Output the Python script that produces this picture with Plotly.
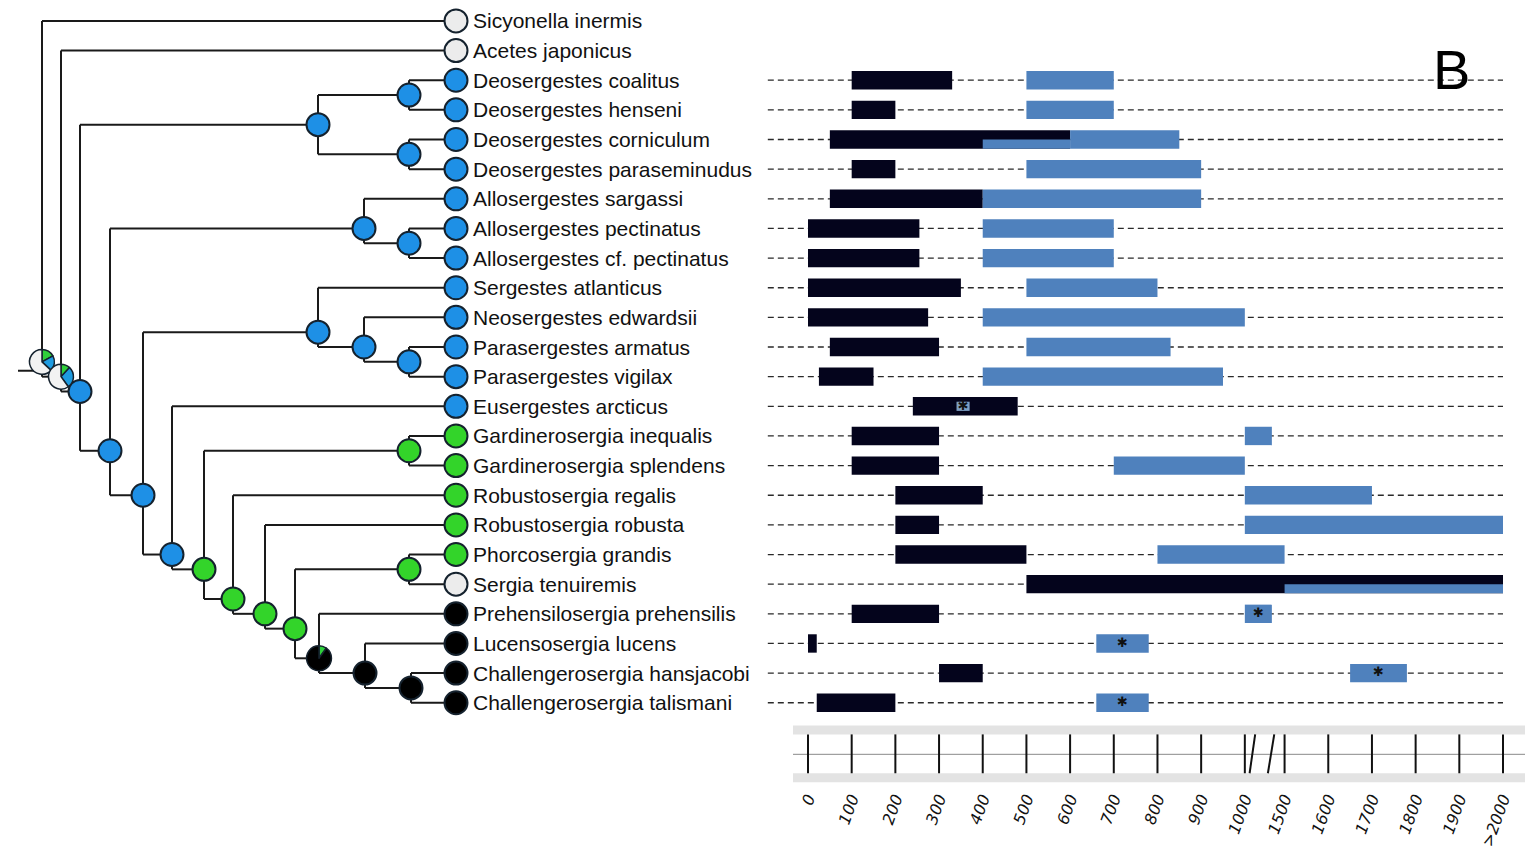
import plotly.graph_objects as go

W, H = 1525, 849

# ---------------- data ----------------
species = [
    "Sicyonella inermis", "Acetes japonicus", "Deosergestes coalitus", "Deosergestes henseni",
    "Deosergestes corniculum", "Deosergestes paraseminudus", "Allosergestes sargassi",
    "Allosergestes pectinatus", "Allosergestes cf. pectinatus", "Sergestes atlanticus",
    "Neosergestes edwardsii", "Parasergestes armatus", "Parasergestes vigilax",
    "Eusergestes arcticus", "Gardinerosergia inequalis", "Gardinerosergia splendens",
    "Robustosergia regalis", "Robustosergia robusta", "Phorcosergia grandis",
    "Sergia tenuiremis", "Prehensilosergia prehensilis", "Lucensosergia lucens",
    "Challengerosergia hansjacobi", "Challengerosergia talismani",
]
tip_state = ["none", "none"] + ["blue"] * 12 + ["green"] * 5 + ["none"] + ["black"] * 4

# internal nodes of the tree (children, horizontal position on tree axis, state)
node_names = ["root", "nA", "nB", "nD1", "nD2", "nD3", "nC", "nAl", "nAl2", "nE", "nS", "nS2",
              "nS3", "nF", "nG", "nGa", "nH", "nI", "nJ", "nP", "nK", "nL", "nM"]
node_children = [
    ["Sicyonella inermis", "nA"],
    ["Acetes japonicus", "nB"],
    ["nD1", "nC"],
    ["nD2", "nD3"],
    ["Deosergestes coalitus", "Deosergestes henseni"],
    ["Deosergestes corniculum", "Deosergestes paraseminudus"],
    ["nAl", "nE"],
    ["Allosergestes sargassi", "nAl2"],
    ["Allosergestes pectinatus", "Allosergestes cf. pectinatus"],
    ["nS", "nF"],
    ["Sergestes atlanticus", "nS2"],
    ["Neosergestes edwardsii", "nS3"],
    ["Parasergestes armatus", "Parasergestes vigilax"],
    ["Eusergestes arcticus", "nG"],
    ["nGa", "nH"],
    ["Gardinerosergia inequalis", "Gardinerosergia splendens"],
    ["Robustosergia regalis", "nI"],
    ["Robustosergia robusta", "nJ"],
    ["nP", "nK"],
    ["Phorcosergia grandis", "Sergia tenuiremis"],
    ["Prehensilosergia prehensilis", "nL"],
    ["Lucensosergia lucens", "nM"],
    ["Challengerosergia hansjacobi", "Challengerosergia talismani"],
]
node_x = [42, 61, 80, 318, 409, 409, 110, 364, 409, 143, 318, 364, 409, 172, 204, 409, 233,
          265, 295, 409, 319, 365, 411]
node_state = ["pie", "pie", "blue", "blue", "blue", "blue", "blue", "blue", "blue", "blue",
              "blue", "blue", "blue", "blue", "green", "green", "green", "green", "green",
              "green", "pie", "black", "black"]
tip_x = 456
root_stem_x = 18

# ancestral-state pies (fractions, clockwise from 12 o'clock)
pie_fractions = {
    "root": [0.17, 0.20, 0.63],
    "nA": [0.12, 0.28, 0.60],
    "nK": [0.10, 0.90],
}
pie_colors = {
    "root": ["#2fcf3a", "#1e9be0", "#f2f2f2"],
    "nA": ["#2fcf3a", "#1e9be0", "#f2f2f2"],
    "nK": ["#2fcf3a", "#000000"],
}

# depth ranges (m): day (dark) and night (blue)
day_start = [None, None, 100, 100, 50, 100, 50, 0, 0, 0, 0, 50, 25, 240, 100, 100, 200, 200, 200, 500, 100, 0, 300, 20]
day_end = [None, None, 330, 200, 600, 200, 400, 255, 255, 350, 275, 300, 150, 480, 300, 300, 400, 300, 500, 2000, 300, 20, 400, 200]
night_start = [None, None, 500, 500, 400, 500, 400, 400, 400, 500, 400, 500, 400, 340, 1000, 700, 1000, 1000, 800, 1500, 1000, 660, 1650, 660]
night_end = [None, None, 700, 700, 850, 900, 900, 700, 700, 800, 1000, 830, 950, 370, 1340, 1000, 1700, 2000, 1500, 2000, 1340, 780, 1780, 780]
night_star = [False] * 13 + [True] + [False] * 6 + [True, True, True, True]

tick_depths = [0, 100, 200, 300, 400, 500, 600, 700, 800, 900, 1000, 1500, 1600, 1700, 1800, 1900, 2000]
tick_text = ["0", "100", "200", "300", "400", "500", "600", "700", "800", "900", "1000",
             "1500", "1600", "1700", "1800", "1900", ">2000"]

# ---------------- helpers ----------------
COL = {"blue": "#1e90e6", "green": "#33d42a", "black": "#000000", "none": "#ececec"}
OUTLINE = "#15222e"
DAY_C = "#04041c"
NIGHT_C = "#4f81bd"

ROW0_PX, ROW_PX = 21.0, 29.75
PLOT_BOTTOM_PX = 786.0
y_top = -ROW0_PX / ROW_PX
y_bot = (PLOT_BOTTOM_PX - ROW0_PX) / ROW_PX


def depth_u(d):
    """broken depth scale: 0-1000 linear, 1000-1500 compressed, >1500 linear"""
    if d <= 1000:
        return d
    if d <= 1500:
        return 1000 + (d - 1000) * 0.182
    return 1091.0 + (d - 1500)


K = (1503 - 808) / depth_u(2000)  # px per unit
x2_range = [-808 / K, (W - 808) / K]

row_of = {s: i for i, s in enumerate(species)}
children_of = dict(zip(node_names, node_children))
nx_of = dict(zip(node_names, node_x))


def tips_under(n):
    if n in row_of:
        return [row_of[n]]
    out = []
    for c in children_of[n]:
        out += tips_under(c)
    return out


def pos(n):
    if n in row_of:
        return tip_x, row_of[n]
    t = tips_under(n)
    return nx_of[n], sum(t) / len(t)


fig = go.Figure()

# ---------------- tree lines ----------------
lx, ly = [], []
for n in node_names:
    x0, y0 = pos(n)
    cys = []
    for c in children_of[n]:
        cx, cy = pos(c)
        cys.append(cy)
        lx += [x0, cx, None]
        ly += [cy, cy, None]
    lx += [x0, x0, None]
    ly += [min(cys), max(cys), None]
rx, ry = pos("root")
lx += [root_stem_x, rx, None]
ly += [ry + 0.3, ry + 0.3, None]
fig.add_trace(go.Scatter(x=lx, y=ly, mode="lines", line=dict(color="#1a1a1a", width=2),
                         hoverinfo="skip", showlegend=False, xaxis="x", yaxis="y"))

# node circles
mx, my, mc = [], [], []
for s in species:
    x, y = pos(s)
    mx.append(x); my.append(y); mc.append(COL[tip_state[row_of[s]]])
for n, st in zip(node_names, node_state):
    if st == "pie":
        continue
    x, y = pos(n)
    mx.append(x); my.append(y); mc.append(COL[st])
fig.add_trace(go.Scatter(x=mx, y=my, mode="markers",
                         marker=dict(size=23, color=mc, line=dict(color=OUTLINE, width=2)),
                         hoverinfo="skip", showlegend=False, xaxis="x", yaxis="y"))

# pies
R = 12.5
for n, st in zip(node_names, node_state):
    if st != "pie":
        continue
    x, y = pos(n)
    cx = x
    cy = ROW0_PX + ROW_PX * y
    fig.add_trace(go.Pie(values=pie_fractions[n], marker=dict(colors=pie_colors[n],
                         line=dict(color=OUTLINE, width=1.5)),
                         sort=False, direction="clockwise", rotation=0, textinfo="none",
                         hoverinfo="skip", showlegend=False,
                         domain=dict(x=[(cx - R) / W, (cx + R) / W],
                                     y=[1 - (cy + R) / H, 1 - (cy - R) / H])))

# species labels
annotations = []
for i, s in enumerate(species):
    annotations.append(dict(x=tip_x + 15, y=i, xref="x", yref="y", text=s, showarrow=False,
                            xanchor="left", yanchor="middle",
                            font=dict(family="Liberation Sans, Arial", size=21, color="#111111")))

# ---------------- depth bars ----------------
# dashed guide lines (drawn on x2, below the bars which sit on x3)
dash_x, dash_y = [], []
for i in range(len(species)):
    if day_start[i] is None:
        continue
    dash_x += [-92, depth_u(2000), None]
    dash_y += [i, i, None]
fig.add_trace(go.Scatter(x=dash_x, y=dash_y, mode="lines",
                         line=dict(color="#2a2a2a", width=1.3, dash="6px,4px"),
                         hoverinfo="skip", showlegend=False, xaxis="x2", yaxis="y"))

BW = 0.62
full_y, full_b, full_l, full_c, full_w = [], [], [], [], []
star_x, star_y = [], []


def add_bar(row, d0, d1, color, width, yoff=0.0):
    u0, u1 = depth_u(d0), depth_u(d1)
    full_y.append(row + yoff); full_b.append(u0); full_l.append(u1 - u0)
    full_c.append(color); full_w.append(width)


for i in range(len(species)):
    if day_start[i] is None:
        continue
    b0, b1, n0, n1 = day_start[i], day_end[i], night_start[i], night_end[i]
    d_end = b1 if b1 > b0 else b0 + 18
    add_bar(i, b0, d_end, DAY_C, BW)
    if n0 > b0 and n1 < b1:
        # night range strictly inside day range: small marker
        add_bar(i, n0, n1, "#7d9fc4", BW * 0.5)
    else:
        ov0, ov1 = max(b0, n0), min(b1, n1)
        if ov1 > ov0:
            add_bar(i, ov0, ov1, NIGHT_C, BW / 2, BW / 4)
            if n1 > ov1:
                add_bar(i, ov1, n1, NIGHT_C, BW)
        else:
            add_bar(i, n0, n1, NIGHT_C, BW)
    if night_star[i]:
        star_x.append((depth_u(n0) + depth_u(n1)) / 2)
        star_y.append(i)

fig.add_trace(go.Bar(y=full_y, x=full_l, base=full_b, orientation="h", width=full_w,
                     marker=dict(color=full_c, line=dict(width=0)),
                     hoverinfo="skip", showlegend=False, xaxis="x3", yaxis="y"))
fig.add_trace(go.Scatter(x=star_x, y=star_y, mode="text", text=["✱"] * len(star_x),
                         textposition="middle center",
                         textfont=dict(family="DejaVu Sans", size=13, color="#111111"),
                         hoverinfo="skip", showlegend=False, xaxis="x3", yaxis="y"))

# ---------------- depth axis strip ----------------
shapes = []


def py(px):
    return 1 - px / H


shapes.append(dict(type="rect", xref="paper", yref="paper", x0=793 / W, x1=1.0,
                   y0=py(737), y1=py(728), fillcolor="#e3e3e3", line=dict(width=0), layer="below"))
shapes.append(dict(type="rect", xref="paper", yref="paper", x0=793 / W, x1=1.0,
                   y0=py(785), y1=py(776), fillcolor="#e3e3e3", line=dict(width=0), layer="below"))
shapes.append(dict(type="line", xref="paper", yref="paper", x0=793 / W, x1=1.0,
                   y0=py(757), y1=py(757), line=dict(color="#8a8a8a", width=1)))
for d in tick_depths:
    shapes.append(dict(type="line", xref="x2", yref="paper", x0=depth_u(d), x1=depth_u(d),
                       y0=py(776), y1=py(737), line=dict(color="#111111", width=2)))
for d0, d1 in [(1060, 1130), (1290, 1370)]:
    shapes.append(dict(type="line", xref="x2", yref="paper", x0=depth_u(d0), x1=depth_u(d1),
                       y0=py(776), y1=py(737), line=dict(color="#111111", width=2)))

annotations.append(dict(x=1451 / W, y=py(70), xref="paper", yref="paper", text="B",
                        showarrow=False, xanchor="center", yanchor="middle",
                        font=dict(family="Liberation Sans, Arial", size=56, color="#000000")))

fig.update_layout(
    width=W, height=H, autosize=False,
    margin=dict(l=0, r=0, t=0, b=0, pad=0),
    paper_bgcolor="white", plot_bgcolor="rgba(0,0,0,0)",
    showlegend=False, barmode="overlay",
    xaxis=dict(domain=[0, 1], range=[0, W], visible=False, fixedrange=True),
    xaxis2=dict(domain=[0, 1], range=x2_range, overlaying="x", anchor="y", side="bottom",
                showgrid=False, zeroline=False, showline=False, ticks="",
                tickvals=[depth_u(d) for d in tick_depths], ticktext=tick_text,
                tickangle=-70, ticklabelstandoff=2,
                tickfont=dict(family="DejaVu Sans", size=16, color="#111111", style="italic")),
    xaxis3=dict(domain=[0, 1], range=x2_range, overlaying="x", anchor="y", visible=False),
    yaxis=dict(domain=[1 - PLOT_BOTTOM_PX / H, 1], range=[y_bot, y_top], visible=False,
               fixedrange=True),
    shapes=shapes, annotations=annotations,
)

fig.write_html("out.html", config={"displayModeBar": False},
               post_script="document.body.style.margin='0px';document.body.style.padding='0px';")
